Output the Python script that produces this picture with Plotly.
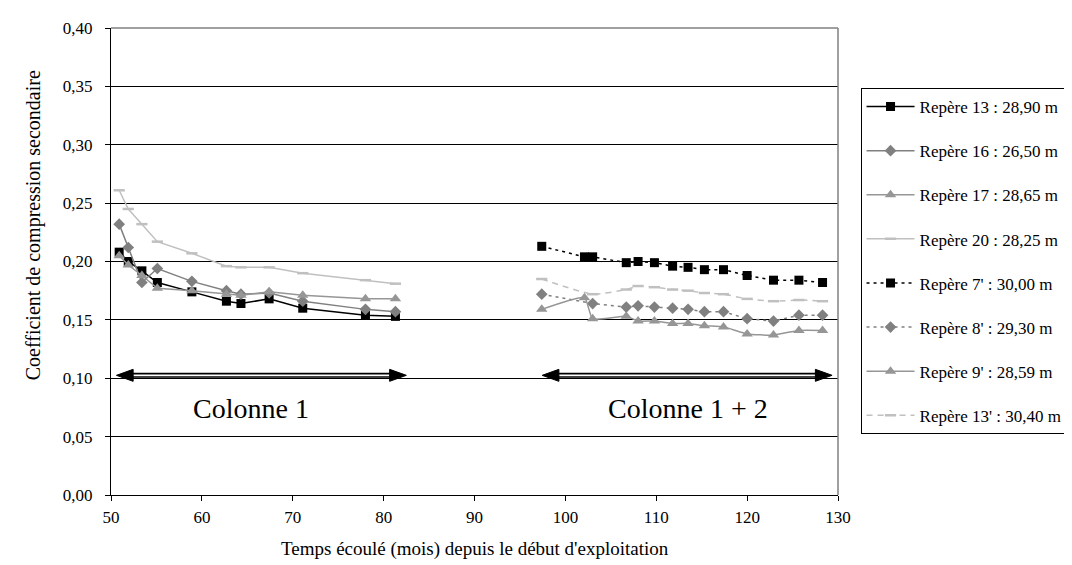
import plotly.graph_objects as go

# ---------------- data ----------------
x_col1 = [50.9, 51.9, 53.4, 55.1, 58.9, 62.7, 64.3, 67.4, 71.1, 78.0, 81.3]
rep13 = [0.208, 0.200, 0.192, 0.182, 0.174, 0.166, 0.164, 0.168, 0.160, 0.154, 0.153]
rep16 = [0.232, 0.212, 0.182, 0.194, 0.183, 0.175, 0.172, 0.173, 0.166, 0.159, 0.157]
rep17 = [0.205, 0.197, 0.188, 0.177, 0.175, 0.172, 0.171, 0.174, 0.171, 0.168, 0.168]
rep20 = [0.261, 0.245, 0.232, 0.217, 0.207, 0.196, 0.195, 0.195, 0.190, 0.184, 0.181]

x_col12 = [97.4, 102.1, 103.0, 106.7, 108.0, 109.8, 111.8, 113.5, 115.3, 117.4, 120.0, 122.9, 125.7, 128.3]
rep7p = [0.213, 0.204, 0.204, 0.199, 0.200, 0.199, 0.196, 0.195, 0.193, 0.193, 0.188, 0.184, 0.184, 0.182]
rep9p = [0.159, 0.169, 0.151, 0.153, 0.149, 0.149, 0.147, 0.147, 0.145, 0.144, 0.138, 0.137, 0.141, 0.141]
x_col12b = [97.4, 103.0, 106.7, 108.0, 109.8, 111.8, 113.5, 115.3, 117.4, 120.0, 122.9, 125.7, 128.3]
rep8p = [0.172, 0.164, 0.161, 0.162, 0.161, 0.160, 0.159, 0.157, 0.157, 0.151, 0.149, 0.154, 0.154]
rep13p = [0.185, 0.172, 0.176, 0.179, 0.178, 0.176, 0.175, 0.173, 0.172, 0.168, 0.166, 0.167, 0.166]

y_ticks = [0.00, 0.05, 0.10, 0.15, 0.20, 0.25, 0.30, 0.35, 0.40]
x_ticks = [50, 60, 70, 80, 90, 100, 110, 120, 130]

arrow_spans = [(50.6, 82.5), (97.45, 129.35)]
arrow_level = 0.1025
column_labels = ["Colonne 1", "Colonne 1 + 2"]
column_label_x = [65.4, 113.5]
column_label_y = 0.074

FONT = '"Liberation Serif", "Times New Roman", Times, serif'

fig = go.Figure()

def add(name, x, y, color, symbol, msize, dash="solid", shape="linear", mline=None):
    marker = dict(symbol=symbol, size=msize, color=color)
    if mline is not None:
        marker["line"] = dict(color=color, width=mline)
    fig.add_trace(go.Scatter(
        x=x, y=y, name=name, mode="lines+markers", legendgroup=name,
        line=dict(color=color, width=1.5, dash=dash, shape=shape, smoothing=0.5),
        marker=marker,
    ))

add("Repère 13 : 28,90 m", x_col1, rep13, "#000000", "square", 9)
add("Repère 16 : 26,50 m", x_col1, rep16, "#808080", "diamond", 9)
add("Repère 17 : 28,65 m", x_col1, rep17, "#969696", "triangle-up", 10)
add("Repère 20 : 28,25 m", x_col1, rep20, "#c0c0c0", "line-ew", 8, mline=2.5)
add("Repère 7' : 30,00 m", x_col12, rep7p, "#000000", "square", 9, dash="3px,4px")
add("Repère 8' : 29,30 m", x_col12b, rep8p, "#808080", "diamond", 9, dash="3px,4px")
add("Repère 9' : 28,59 m", x_col12, rep9p, "#969696", "triangle-up", 10, shape="spline")
add("Repère 13' : 30,40 m", x_col12b, rep13p, "#c0c0c0", "line-ew", 8, dash="6px,5px", shape="spline", mline=2.5)

# ---------------- double-line arrows ----------------
px_per_x = 740 / 80.0
px_per_y = 467 / 0.4
head_len = 17 / px_per_x
head_half = 6 / px_per_y
for (x0, x1) in arrow_spans:
    for w, c in ((5, "#000000"), (1.6, "#ffffff")):
        fig.add_trace(go.Scatter(
            x=[x0 + head_len * 0.6, x1 - head_len * 0.6], y=[arrow_level, arrow_level],
            mode="lines", line=dict(color=c, width=w), showlegend=False, hoverinfo="skip"))
    for tip, base in ((x0, x0 + head_len), (x1, x1 - head_len)):
        fig.add_trace(go.Scatter(
            x=[tip, base, base, tip], y=[arrow_level, arrow_level + head_half, arrow_level - head_half, arrow_level],
            mode="lines", fill="toself", fillcolor="#000000", line=dict(color="#000000", width=1),
            showlegend=False, hoverinfo="skip"))

for lab, lx in zip(column_labels, column_label_x):
    fig.add_annotation(x=lx, y=column_label_y, xref="x", yref="y", text=lab, showarrow=False,
                       xanchor="center", yanchor="middle",
                       font=dict(family=FONT, size=28, color="#000000"))

fig.add_annotation(x=-0.107, y=0.578, xref="paper", yref="paper", text="Coefficient de compression secondaire",
                   textangle=-90, showarrow=False, xanchor="center", yanchor="middle",
                   font=dict(family=FONT, size=20, color="#000000"))
fig.add_annotation(x=0.5, y=-0.116, xref="paper", yref="paper",
                   text="Temps écoulé (mois) depuis le début d'exploitation",
                   showarrow=False, xanchor="center", yanchor="middle",
                   font=dict(family=FONT, size=19, color="#000000"))

# plot border top/right (gray)
fig.add_shape(type="line", xref="paper", yref="paper", x0=0, x1=1, y0=1, y1=1, line=dict(color="#808080", width=1.5))
fig.add_shape(type="line", xref="paper", yref="paper", x0=1, x1=1, y0=0, y1=1, line=dict(color="#808080", width=1.5))

fig.update_layout(
    width=1072, height=565,
    margin=dict(l=103, r=229, t=20, b=78),
    paper_bgcolor="#ffffff", plot_bgcolor="#ffffff",
    separators=", ",
    font=dict(family=FONT, size=17, color="#000000"),
    showlegend=True,
    legend=dict(x=1.031, y=0.8715, xanchor="left", yanchor="top",
                bordercolor="#000000", borderwidth=1, bgcolor="#ffffff",
                font=dict(family=FONT, size=17, color="#000000"),
                tracegroupgap=19, itemwidth=48),
    xaxis=dict(range=[50, 130], tickvals=x_ticks, ticktext=[str(v) for v in x_ticks],
               showgrid=False, zeroline=False, showline=True, linecolor="#000000", linewidth=1,
               ticks="outside", ticklen=5, tickcolor="#000000", ticklabelstandoff=2,
               tickfont=dict(family=FONT, size=17, color="#000000")),
    yaxis=dict(range=[0, 0.4], tickvals=y_ticks, tickformat=".2f",
               showgrid=True, gridcolor="#000000", gridwidth=1, zeroline=False,
               showline=True, linecolor="#000000", linewidth=1,
               ticks="outside", ticklen=5, tickcolor="#000000", ticklabelstandoff=9,
               tickfont=dict(family=FONT, size=17, color="#000000")),
)

fig.write_html("out.html")
